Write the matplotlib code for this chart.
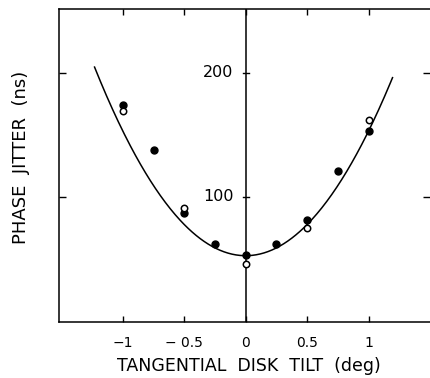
import matplotlib
matplotlib.use("Agg")
import matplotlib.pyplot as plt
import numpy as np

plt.rcParams['font.family'] = ['DejaVu Sans']

# Data
tilt_filled = [-1.0, -0.75, -0.5, -0.25, 0.0, 0.25, 0.5, 0.75, 1.0]
jitter_filled = [174, 138, 87, 62, 53, 62, 81, 121, 153]
tilt_open = [-1.0, -0.5, 0.0, 0.5, 1.0]
jitter_open = [169, 91, 46, 75, 162]

# Fitted parabola (min value, curvature) and its drawn range
fit_min = 52.5
fit_curv = 100.5
fit_range = (-1.23, 1.195)

x_ticks = [-1, -0.5, 0, 0.5, 1]
x_tick_labels = ["\u22121", "\u2212 0.5", "0", "0.5", "1"]
y_ticks = [100, 200]
y_tick_labels = ["100", "200"]

fig = plt.figure(figsize=(4.30, 3.78), dpi=100)
ax = fig.add_axes([0.137, 0.147, 0.863, 0.828])
ax.set_xlim(-1.52, 1.5)
ax.set_ylim(-1.3, 251)

xc = np.linspace(fit_range[0], fit_range[1], 300)
ax.plot(xc, fit_min + fit_curv * xc ** 2, color='black', lw=1.1)

ax.plot(tilt_filled, jitter_filled, 'o', color='black', ms=5, zorder=3)
ax.plot(tilt_open, jitter_open, 'o', mfc='white', mec='black', mew=1.1, ms=4.6, zorder=4)

# center vertical axis
ax.axvline(0, color='black', lw=1.1, zorder=2)
for yt, lab in zip(y_ticks, y_tick_labels):
    ax.plot([-0.025, 0.025], [yt, yt], color='black', lw=1.0)
    ax.text(-0.1, yt, lab, ha='right', va='center', fontsize=11.5)

ax.set_xticks(x_ticks)
ax.set_xticklabels(x_tick_labels, fontsize=10)
ax.set_yticks(y_ticks)
ax.set_yticklabels([])
ax.tick_params(axis='both', direction='in', length=4, width=1.0,
               top=True, right=True, pad=10)
ax.tick_params(axis='y', length=5)
for s in ['left', 'top', 'bottom']:
    ax.spines[s].set_linewidth(1.1)
ax.spines['right'].set_color('#bbbbbb')
ax.spines['right'].set_linewidth(0.6)

ax.set_xlabel("TANGENTIAL  DISK  TILT  (deg)", fontsize=12.5)
ax.xaxis.set_label_coords(0.512, -0.11)
ax.set_ylabel("PHASE  JITTER  (ns)", fontsize=13)
ax.yaxis.set_label_coords(-0.078, 0.527)

fig.savefig("out.png", dpi=100)
